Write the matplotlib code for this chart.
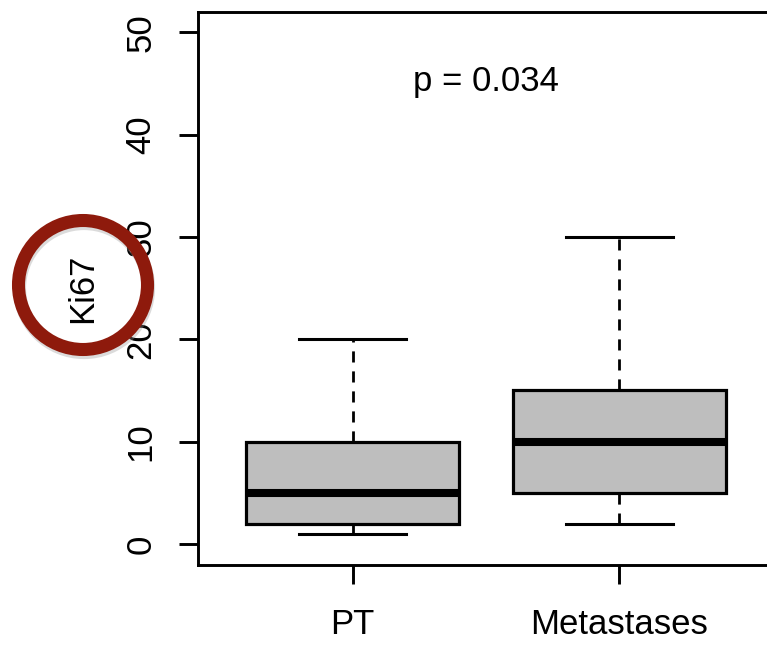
# Ki67 boxplot, PT vs metastases, R-style look
import matplotlib
matplotlib.use("Agg")
import matplotlib.pyplot as plt
from matplotlib.patches import Ellipse

groups = ["PT", "Metastases"]
whiskerLow = [1, 2]
q1 = [2, 5]
medians = [5, 10]
q3 = [10, 15]
whiskerHigh = [20, 30]
yTicks = [0, 10, 20, 30, 40, 50]
pText = "p = 0.034"

plt.rcParams["font.family"] = ["Liberation Sans", "DejaVu Sans"]

fig = plt.figure(figsize=(7.67, 6.45), dpi=100)
ax = fig.add_axes([0.258, 0.1248, 0.751, 0.857])

stats = []
for i in range(len(groups)):
  stats.append({"label": groups[i], "whislo": whiskerLow[i], "q1": q1[i],
                "med": medians[i], "q3": q3[i], "whishi": whiskerHigh[i],
                "fliers": []})

ax.bxp(stats, positions=[1, 2], widths=0.8, capwidths=0.4, patch_artist=True,
       showfliers=False,
       boxprops=dict(facecolor="#bebebe", edgecolor="black", linewidth=2.3),
       medianprops=dict(color="black", linewidth=5.8, solid_capstyle="butt"),
       whiskerprops=dict(color="black", linewidth=2, linestyle=(0, (4, 3.2))),
       capprops=dict(color="black", linewidth=2.2))

ax.set_xlim(0.42, 2.58)
ax.set_ylim(-2, 52)
ax.set_yticks(yTicks)
ax.set_yticklabels([str(t) for t in yTicks], rotation=90, va="center")
ax.set_xticks([1, 2])
ax.set_xticklabels(groups)
ax.tick_params(axis="both", length=14, width=2.1, labelsize=25, direction="out")
ax.tick_params(axis="y", pad=15)
ax.tick_params(axis="x", pad=17)
for s in ax.spines.values():
  s.set_linewidth(2.1)

ax.text(1.5, 45.2, pText, ha="center", va="center", fontsize=25)
ax.text(-0.2, 0.5, "Ki67", transform=ax.transAxes, rotation=90,
        ha="center", va="center", fontsize=25)

# red circle highlight around the axis label
cx, cy, r = 83 / 767, 1 - 285 / 645, 64.5
shadow = Ellipse((cx + 1 / 767, cy - 3 / 645), 2 * r / 767, 2 * r / 645,
                 transform=fig.transFigure, fill=False, edgecolor="#999999",
                 linewidth=9.5, alpha=0.35)
fig.add_artist(shadow)
ring = Ellipse((cx, cy), 2 * r / 767, 2 * r / 645, transform=fig.transFigure,
               fill=False, edgecolor="#8e1a0c", linewidth=9.4)
fig.add_artist(ring)

fig.savefig("out.png", dpi=100)
